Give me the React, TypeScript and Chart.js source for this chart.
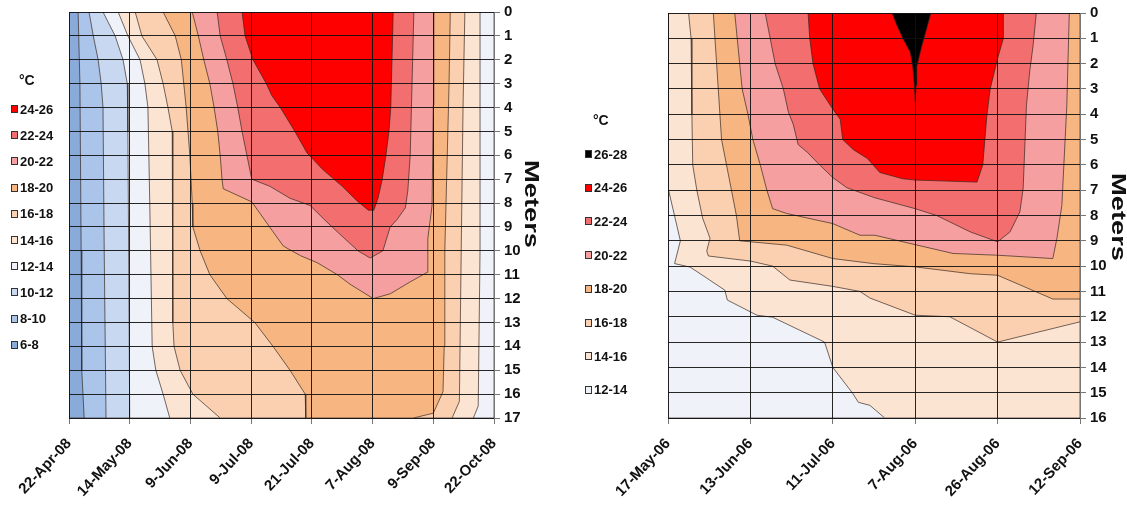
import React, { useEffect, useRef } from 'react';
import { Chart, registerables } from 'chart.js';
Chart.register(...registerables);

type Pt = [number, number];

// ---------- LEFT PANEL (2008) ----------
const leftDates = ['22-Apr-08', '14-May-08', '9-Jun-08', '9-Jul-08', '21-Jul-08', '7-Aug-08', '9-Sep-08', '22-Oct-08'];
const leftDepthLabels = ['0', '1', '2', '3', '4', '5', '6', '7', '8', '9', '10', '11', '12', '13', '14', '15', '16', '17'];
const leftLegendLabels = ['24-26', '22-24', '20-22', '18-20', '16-18', '14-16', '12-14', '10-12', '8-10', '6-8'];
const leftLegendLows = [24, 22, 20, 18, 16, 14, 12, 10, 8, 6];

// isotherm regions: [category position, depth m], area where temperature >= threshold
const leftT6: Pt[] = [[0, 0], [7, 0], [7, 17], [0, 17]];
const leftT8: Pt[] = [[0.15, 0], [0.18, 3], [0.2, 10], [0.21, 15], [0.25, 17], [7, 17], [7, 0]];
const leftT10: Pt[] = [[0.33, 0], [0.4, 1], [0.48, 2], [0.53, 3], [0.56, 4], [0.58, 10], [0.61, 17], [7, 17], [7, 0]];
const leftT12: Pt[] = [[0.56, 0], [0.76, 1], [0.89, 2], [0.96, 3], [0.97, 5], [1.0, 17], [7, 17], [7, 0]];
const leftT14: Pt[] = [[0.81, 0], [0.97, 1], [1.17, 2], [1.25, 3], [1.3, 4], [1.33, 8], [1.37, 14], [1.43, 15], [1.55, 16], [1.66, 17], [6.66, 17], [6.74, 16.5], [6.77, 10], [6.77, 0]];
const leftT16: Pt[] = [[1.09, 0], [1.2, 1], [1.45, 2], [1.55, 3], [1.63, 4], [1.7, 5], [1.71, 6], [1.71, 13], [1.73, 14], [1.83, 15], [2.04, 16], [2.49, 17], [6.31, 17], [6.43, 16.3], [6.46, 10], [6.49, 4], [6.52, 0]];
const leftT18: Pt[] = [[1.55, 0], [1.75, 1], [1.85, 2], [1.89, 3], [1.93, 4], [1.99, 6], [2.03, 8], [2.04, 9], [2.16, 10], [2.32, 11], [2.6, 12], [3.06, 13], [3.36, 14], [3.64, 15], [3.89, 16], [3.9, 17], [5.67, 17], [6.0, 16.8], [6.16, 15.9], [6.18, 14], [6.19, 10], [6.23, 6], [6.26, 3], [6.28, 0]];
const leftT20: Pt[] = [[2.03, 0], [2.13, 1], [2.22, 2], [2.32, 3], [2.39, 4], [2.45, 5], [2.49, 6], [2.52, 7], [2.54, 7.4], [3.01, 7.95], [3.36, 9.2], [3.53, 9.8], [3.81, 10.2], [4.09, 10.5], [4.42, 11], [4.63, 11.4], [5.01, 12], [5.29, 11.8], [5.62, 11.3], [5.9, 10.9], [5.91, 9.5], [5.98, 8.1], [6.0, 3.9], [6.01, 0]];
const leftT22: Pt[] = [[2.44, 0], [2.49, 1], [2.6, 2], [2.7, 3], [2.78, 4], [2.85, 5], [2.93, 6], [3.01, 7], [3.31, 7.3], [3.64, 7.8], [3.97, 8.1], [4.25, 8.8], [4.46, 9.3], [4.76, 10], [4.96, 10.3], [5.17, 10], [5.29, 9], [5.4, 8.7], [5.54, 8.2], [5.58, 7.5], [5.62, 6], [5.65, 3], [5.68, 0]];
const leftT24: Pt[] = [[2.85, 0], [2.9, 1], [3.03, 2], [3.25, 3], [3.34, 3.5], [3.48, 4], [3.72, 5], [3.92, 5.9], [4.18, 6.6], [4.5, 7.3], [4.74, 7.9], [4.93, 8.3], [5.02, 8.3], [5.09, 7.8], [5.16, 7], [5.22, 6], [5.27, 5], [5.3, 4], [5.32, 2], [5.34, 0]];

// ---------- RIGHT PANEL (2006) ----------
const rightDates = ['17-May-06', '13-Jun-06', '11-Jul-06', '7-Aug-06', '26-Aug-06', '12-Sep-06'];
const rightDepthLabels = ['0', '1', '2', '3', '4', '5', '6', '7', '8', '9', '10', '11', '12', '13', '14', '15', '16'];
const rightLegendLabels = ['26-28', '24-26', '22-24', '20-22', '18-20', '16-18', '14-16', '12-14'];
const rightLegendLows = [26, 24, 22, 20, 18, 16, 14, 12];

const rightT12: Pt[] = [[0, 0], [5, 0], [5, 16], [0, 16]];
const rightT14: Pt[] = [[0, 0], [0, 6.9], [0.15, 9.0], [0.08, 9.9], [0.27, 10.04], [0.69, 10.95], [0.72, 11.34], [1.08, 11.94], [1.27, 12.02], [1.9, 13.0], [2.0, 14.0], [2.24, 15.02], [2.31, 15.38], [2.45, 15.5], [2.63, 16], [5, 16], [5, 0]];
const rightT16: Pt[] = [[0.25, 0], [0.28, 1], [0.29, 4], [0.3, 6], [0.35, 7], [0.42, 8.1], [0.51, 8.9], [0.47, 9.4], [0.49, 9.6], [1.0, 9.8], [1.27, 10], [1.48, 10.55], [2.0, 10.8], [2.33, 11.0], [2.45, 11.26], [3.0, 11.94], [3.42, 12.0], [4.0, 13.0], [5, 12.2], [5, 0]];
const rightT18: Pt[] = [[0.55, 0], [0.57, 1], [0.61, 3], [0.65, 5], [0.71, 6], [0.77, 7], [0.83, 8], [0.87, 9], [1.44, 9.17], [2.0, 9.7], [2.49, 9.9], [3.0, 10.03], [3.67, 10.3], [4.0, 10.36], [4.67, 11.3], [5, 11.3], [5, 0]];
const rightT20: Pt[] = [[0.81, 0], [0.84, 1], [0.9, 3], [0.97, 4], [1.03, 5], [1.12, 6], [1.2, 7], [1.27, 7.73], [1.44, 7.92], [2.0, 8.32], [2.33, 8.78], [2.51, 8.78], [3.46, 9.5], [4.0, 9.57], [4.67, 9.7], [4.72, 8.9], [4.78, 7.6], [4.84, 3.65], [4.87, 0]];
const rightT22: Pt[] = [[1.18, 0], [1.24, 1], [1.3, 2], [1.4, 3], [1.46, 3.9], [1.52, 4.4], [1.58, 5.2], [1.69, 5.5], [1.84, 6], [2.0, 6.5], [2.17, 6.9], [2.51, 7.3], [3.0, 7.73], [3.26, 8.0], [3.67, 8.65], [4.0, 9.04], [4.15, 8.65], [4.27, 7.86], [4.31, 6.94], [4.35, 3.65], [4.39, 2.3], [4.43, 1.3], [4.47, 0]];
const rightT24: Pt[] = [[1.7, 0], [1.72, 1], [1.76, 2], [1.84, 3], [2.0, 3.8], [2.09, 4.2], [2.12, 5], [2.25, 5.4], [2.42, 5.75], [2.57, 6.3], [2.85, 6.55], [3.0, 6.6], [3.75, 6.68], [3.82, 6.0], [3.87, 4.05], [3.91, 3.0], [4.0, 1.8], [4.07, 1.0], [4.07, 0]];
const rightT26: Pt[] = [[2.72, 0], [2.78, 0.5], [2.85, 1], [2.94, 1.55], [2.97, 2.1], [2.99, 2.86], [3.0, 3.5], [3.01, 2.86], [3.02, 2.1], [3.08, 1.3], [3.14, 0.6], [3.19, 0]];

const bandColors: Record<number, string> = {
  6: '#8aaada',
  8: '#abc4e9',
  10: '#c8d8f0',
  12: '#eff2f8',
  14: '#fce4d3',
  16: '#fad0b1',
  18: '#f7b681',
  20: '#f59fa1',
  22: '#f36f6f',
  24: '#ff0000',
  26: '#000000',
};

const FONT = "'Liberation Sans', Arial, sans-serif";

type Band = { low: number; poly: Pt[] };

function makeDatasets(bands: Band[]) {
  return bands.map((b) => ({
    label: String(b.low),
    data: [...b.poly, b.poly[0]].map(([x, y]) => ({ x, y })),
    showLine: true,
    fill: 'shape',
    backgroundColor: bandColors[b.low],
    borderColor: 'rgba(50,35,30,0.85)',
    borderWidth: 0.8,
    pointRadius: 0,
    tension: 0,
    order: 100 - b.low,
  }));
}

type PanelProps = {
  width: number;
  height: number;
  left: number;
  area: { left: number; right: number; top: number; bottom: number };
  dates: string[];
  depthLabels: string[];
  bands: Band[];
  meters: { x: number; y: number };
};

function Panel(p: PanelProps) {
  const ref = useRef<HTMLCanvasElement>(null);
  useEffect(() => {
    if (!ref.current) return;
    const maxX = p.dates.length - 1;
    const maxY = p.depthLabels.length - 1;
    const metersPlugin = {
      id: 'meters',
      afterDraw(chart: any) {
        const ctx = chart.ctx;
        ctx.save();
        ctx.translate(p.meters.x, p.meters.y);
        ctx.rotate(Math.PI / 2);
        ctx.scale(1.3, 1);
        ctx.font = `bold 21px ${FONT}`;
        ctx.fillStyle = '#111';
        ctx.textAlign = 'center';
        ctx.textBaseline = 'middle';
        ctx.fillText('Meters', 0, 0);
        ctx.restore();
      },
    };
    const chart = new Chart(ref.current, {
      type: 'scatter',
      data: { datasets: makeDatasets(p.bands) as any },
      options: {
        animation: false,
        responsive: false,
        events: [],
        layout: { padding: { left: p.area.left, top: p.area.top, right: 0, bottom: 0 } },
        plugins: { legend: { display: false }, tooltip: { enabled: false } },
        scales: {
          x: {
            type: 'linear',
            min: 0,
            max: maxX,
            ticks: {
              stepSize: 1,
              autoSkip: false,
              minRotation: 47,
              maxRotation: 47,
              padding: 11,
              color: '#111',
              font: { family: FONT, size: 15, weight: 'bold' },
              callback: (v: any) => p.dates[Math.round(Number(v))] ?? '',
            },
            grid: { z: 1, color: 'rgba(15,15,15,0.9)', lineWidth: 1, tickLength: 6, tickColor: '#777' },
            border: { display: true, color: '#777', z: 1 },
            afterFit: (s: any) => {
              s.height = p.height - p.area.bottom;
              s.paddingLeft = 0;
              s.paddingRight = 0;
            },
          } as any,
          y: {
            type: 'linear',
            position: 'right',
            reverse: true,
            min: 0,
            max: maxY,
            ticks: {
              stepSize: 1,
              autoSkip: false,
              padding: 4,
              color: '#111',
              font: { family: FONT, size: 15, weight: 'bold' },
              callback: (v: any) => p.depthLabels[Math.round(Number(v))] ?? '',
            },
            grid: { z: 1, color: 'rgba(15,15,15,0.9)', lineWidth: 1, tickLength: 6, tickColor: '#777' },
            border: { display: true, color: '#777', z: 1 },
            afterFit: (s: any) => {
              s.width = p.width - p.area.right;
              s.paddingTop = 0;
              s.paddingBottom = 0;
            },
          } as any,
        },
      },
      plugins: [metersPlugin],
    });
    return () => chart.destroy();
  }, []);
  return (
    <canvas
      ref={ref}
      width={p.width}
      height={p.height}
      style={{ position: 'absolute', left: p.left, top: 0, display: 'block' }}
    />
  );
}

function Legend(props: { left: number; titleY: number; startY: number; step: number; labels: string[]; lows: number[] }) {
  const { left, titleY, startY, step, labels, lows } = props;
  return (
    <div style={{ position: 'absolute', left: 0, top: 0 }}>
      <div
        style={{
          position: 'absolute',
          left: left + 8,
          top: titleY - 9,
          font: `bold 14px ${FONT}`,
          color: '#111',
          lineHeight: '18px',
        }}
      >
        °C
      </div>
      {labels.map((lab, i) => (
        <div
          key={lab}
          style={{
            position: 'absolute',
            left,
            top: startY + i * step - 9,
            height: 18,
            display: 'flex',
            alignItems: 'center',
            font: `bold 13px ${FONT}`,
            color: '#111',
            whiteSpace: 'nowrap',
          }}
        >
          <span
            style={{
              display: 'inline-block',
              width: 5,
              height: 6,
              border: '1px solid #333',
              background: bandColors[lows[i]],
              marginRight: 2,
            }}
          />
          {lab}
        </div>
      ))}
    </div>
  );
}

export default function App() {
  const leftBands: Band[] = [
    { low: 6, poly: leftT6 },
    { low: 8, poly: leftT8 },
    { low: 10, poly: leftT10 },
    { low: 12, poly: leftT12 },
    { low: 14, poly: leftT14 },
    { low: 16, poly: leftT16 },
    { low: 18, poly: leftT18 },
    { low: 20, poly: leftT20 },
    { low: 22, poly: leftT22 },
    { low: 24, poly: leftT24 },
  ];
  const rightBands: Band[] = [
    { low: 12, poly: rightT12 },
    { low: 14, poly: rightT14 },
    { low: 16, poly: rightT16 },
    { low: 18, poly: rightT18 },
    { low: 20, poly: rightT20 },
    { low: 22, poly: rightT22 },
    { low: 24, poly: rightT24 },
    { low: 26, poly: rightT26 },
  ];
  return (
    <div style={{ position: 'absolute', left: 0, top: 0, width: 1127, height: 507, background: '#fff', overflow: 'hidden' }}>
      <Panel
        width={560}
        height={507}
        left={0}
        area={{ left: 69, right: 494, top: 12, bottom: 418 }}
        dates={leftDates}
        depthLabels={leftDepthLabels}
        bands={leftBands}
        meters={{ x: 531, y: 204 }}
      />
      <Panel
        width={567}
        height={507}
        left={560}
        area={{ left: 108, right: 520, top: 13, bottom: 418 }}
        dates={rightDates}
        depthLabels={rightDepthLabels}
        bands={rightBands}
        meters={{ x: 558, y: 217 }}
      />
      <Legend left={11} titleY={80} startY={109} step={26.2} labels={leftLegendLabels} lows={leftLegendLows} />
      <Legend left={585} titleY={120} startY={154} step={33.7} labels={rightLegendLabels} lows={rightLegendLows} />
    </div>
  );
}
